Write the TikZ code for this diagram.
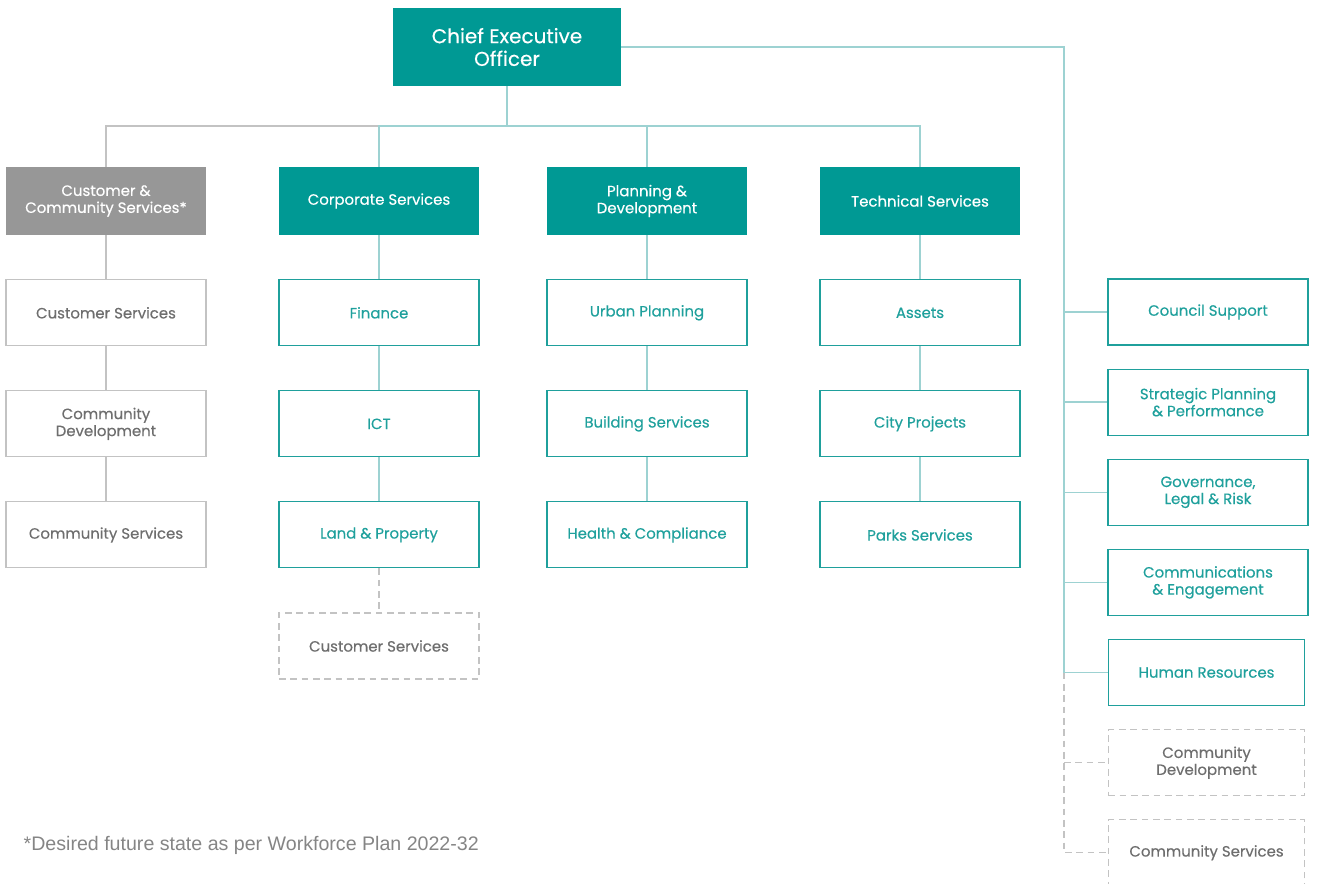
\documentclass[tikz,border=0pt]{standalone}
\usepackage{fontspec}
\setmainfont{Poppins}
\newfontfamily\boxfont{Poppins}[FakeBold=0.35]
\newfontfamily\notefont{Liberation Sans}
\usetikzlibrary{positioning}
\definecolor{orgteal}{HTML}{009994}
\definecolor{unitteal}{HTML}{1FA09C}
\definecolor{linkteal}{HTML}{9DD2D2}
\definecolor{orggrey}{HTML}{979797}
\definecolor{linkgrey}{HTML}{C3C3C3}
\definecolor{textgrey}{HTML}{6E6E6E}
\definecolor{notegrey}{HTML}{858585}
\def\W{150pt}
\def\Wceo{171pt}
\def\H{49.5pt}
\def\Hhead{51pt}
\def\Hceo{58.5pt}
\def\distV{33pt}
\def\distS{17.3pt}
\tikzstyle{every node} = [font=\boxfont\fontsize{11.2}{12.75}\selectfont, align=center]
\tikzstyle{ceobox}   = [rectangle, minimum width=\Wceo, minimum height=\Hceo, fill=orgteal, text=white, font=\boxfont\fontsize{15}{17}\selectfont]
\tikzstyle{head}     = [rectangle, minimum width=\W, minimum height=\Hhead, fill=orgteal, text=white]
\tikzstyle{greyhead} = [head, fill=orggrey]
\tikzstyle{unit}     = [rectangle, minimum width=\W, minimum height=\H, draw=unitteal, text=unitteal, line width=0.8pt]
\tikzstyle{greyunit} = [unit, draw=linkgrey, text=textgrey]
\tikzstyle{planned}  = [greyunit, dash pattern=on 5pt off 3.5pt]
\tikzstyle{link}     = [draw=linkteal, line width=1pt]
\tikzstyle{greylink} = [draw=linkgrey, line width=1pt]
\tikzstyle{planlink} = [greylink, dash pattern=on 5pt off 3.5pt]

\begin{document}
\begin{tikzpicture}[x=0.75pt, y=-0.75pt]
\useasboundingbox (0,0) rectangle (1317,884);
% Objects
    % CEO
    \node (ceo)   [ceobox] at (507,47)  {Chief Executive\\Officer};
    % Directorates
    \node (ccs)   [greyhead] at (106,201) {Customer \&\\Community Services*};
    \node (corp)  [head]     at (379,201) {Corporate Services};
    \node (plan)  [head]     at (647,201) {Planning \&\\Development};
    \node (tech)  [head]     at (920,201) {Technical Services};
    % Customer & Community
    \node (cust)  [greyunit, below=\distV of ccs]  {Customer Services};
    \node (cdev)  [greyunit, below=\distV of cust] {Community\\Development};
    \node (csvc)  [greyunit, below=\distV of cdev] {Community Services};
    % Corporate
    \node (fin)   [unit,    below=\distV of corp] {Finance};
    \node (ict)   [unit,    below=\distV of fin]  {ICT};
    \node (land)  [unit,    below=\distV of ict]  {Land \& Property};
    \node (cust1) [planned, below=\distV of land] {Customer Services};
    % Planning
    \node (urban) [unit, below=\distV of plan]  {Urban Planning};
    \node (build) [unit, below=\distV of urban] {Building Services};
    \node (hlth)  [unit, below=\distV of build] {Health \& Compliance};
    % Technical
    \node (asset) [unit, below=\distV of tech]  {Assets};
    \node (city)  [unit, below=\distV of asset] {City Projects};
    \node (parks) [unit, below=\distV of city]  {Parks Services};
    % CEO units
    \node (cncl)  [unit,    at={(1208,312)}]        {Council Support};
    \node (strat) [unit,    below=\distS of cncl]   {Strategic Planning\\\& Performance};
    \node (gov)   [unit,    below=\distS of strat]  {Governance,\\Legal \& Risk};
    \node (comms) [unit,    below=\distS of gov]    {Communications\\\& Engagement};
    \node (hr)    [unit,    below=\distS of comms, minimum width=147.5pt, xshift=-1.1pt] {Human Resources};
    \node (cdev2) [planned, below=\distS of hr, minimum width=147.5pt]     {Community\\Development};
    \node (csvc2) [planned, below=\distS of cdev2, minimum width=147.5pt]  {Community Services};
    % Note
    \node (note)  [anchor=west, text=notegrey, font=\notefont\fontsize{14.7}{17}\selectfont] at (19,845) {*Desired future state as per Workforce Plan 2022-32};

% Lines
    \coordinate (bus)   at (507,126);
    \coordinate (spine) at (1064,47);
    % CEO to directorates
    \draw [greylink] (ccs)  |- (corp |- bus);
    \draw [link]     (corp) |- (bus) -| (tech);
    \draw [link]     (plan) -- (plan |- bus);
    \draw [link]     (ceo)  -- (bus);
    % Columns
    \draw [greylink] (ccs)  -- (cust) -- (cdev) -- (csvc);
    \draw [link]     (corp) -- (fin)  -- (ict)  -- (land);
    \draw [planlink] (land) -- (cust1);
    \draw [link]     (plan) -- (urban) -- (build) -- (hlth);
    \draw [link]     (tech) -- (asset) -- (city)  -- (parks);
    % CEO units
    \draw [link]     (ceo.east) -- (spine) -- (spine |- hr);
    \foreach \u in {cncl, strat, gov, comms, hr}
        \draw [link] (spine |- \u) -- (\u);
    \draw [planlink] (spine |- hr) |- (csvc2);
    \draw [planlink] (spine |- cdev2) -- (cdev2);
\end{tikzpicture}
\end{document}
